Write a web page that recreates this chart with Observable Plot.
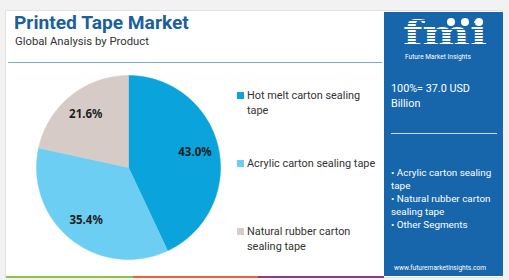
<!DOCTYPE html>
<html><head><meta charset="utf-8">
<script src="https://cdn.jsdelivr.net/npm/d3@7"></script>
<script src="https://cdn.jsdelivr.net/npm/@observablehq/plot@0.6"></script>
<style>
html,body{margin:0;padding:0;background:#f2f2f2;}
#wrap{position:relative;width:509px;height:280px;overflow:hidden;font-family:Roboto,"Noto Sans",sans-serif;}
#card{position:absolute;left:5px;top:10px;width:498px;height:268px;background:#fff;border:1px solid #e3e3e3;box-sizing:border-box;}
.abs{position:absolute;white-space:nowrap;}
#title{left:14px;top:13px;font-size:19.2px;line-height:19px;font-weight:700;color:#1b5f9c;}
#sub{left:15px;top:35.5px;font-size:11.3px;line-height:11px;color:#333;}
#divider{left:8px;top:62px;width:374px;height:1px;background:#78acd2;}
#panel{left:384px;top:12px;width:119px;height:264px;background:#1766ac;}
.strip{top:276px;height:2px;}
#plot{left:28px;top:67px;}
.leg{font-size:10.9px;color:#333;line-height:15px;}
.sw{display:inline-block;width:7px;height:7px;margin-right:3px;vertical-align:0px;}
.pt{color:#fff;}
</style></head>
<body>
<div id="wrap">
  <div id="card"></div>
  <div class="abs" id="title">Printed Tape Market</div>
  <div class="abs" id="sub">Global Analysis by Product</div>
  <div class="abs" id="divider"></div>
  <div class="abs" id="plot"></div>
  <div id="legend"></div>
  <div class="abs" id="panel"></div>
  <div id="strips"></div>
  <div id="side"></div>
</div>
<script>
// ---- data ----
const categories = ["Hot melt carton sealing tape", "Acrylic carton sealing tape", "Natural rubber carton sealing tape"];
const legendLines = [["Hot melt carton sealing", "tape"], ["Acrylic carton sealing tape"], ["Natural rubber carton", "sealing tape"]];
const shares = [43.0, 35.4, 21.6];
const colors = ["#0aa3dc", "#6dcef3", "#d6cbc6"];
const totalLabel = ["100%= 37.0 USD", "Billion"];
const otherSegments = ["• Acrylic carton sealing", "tape", "• Natural rubber carton", "sealing tape", "• Other Segments"];
const website = "www.futuremarketinsights.com";
const stripColors = ["#8bc34a", "#e5643a", "#8c3a8f"];

// ---- pie geometry from data ----
const arcs = d3.pie().sort(null).value(d => d.v)(categories.map((c, i) => ({c, v: shares[i], col: colors[i]})));
const polyPts = [];
arcs.forEach((a, k) => {
  const n = Math.max(2, Math.ceil((a.endAngle - a.startAngle) / 0.01));
  polyPts.push({k, x: 0, y: 0, col: a.data.col});
  for (let j = 0; j <= n; j++) {
    const t = a.startAngle + (a.endAngle - a.startAngle) * j / n;
    polyPts.push({k, x: Math.sin(t), y: Math.cos(t), col: a.data.col});
  }
  polyPts.push({k, x: 0, y: 0, col: a.data.col});
});
const labelR = 0.74;
const labels = arcs.map(a => {
  const m = (a.startAngle + a.endAngle) / 2;
  return {x: Math.sin(m) * labelR, y: Math.cos(m) * labelR, t: a.data.v.toFixed(1) + "%"};
});

const chart = Plot.plot({
  width: 200, height: 200, margin: 8,
  x: {domain: [-1, 1], axis: null},
  y: {domain: [-1, 1], axis: null},
  style: {background: "transparent"},
  marks: [
    Plot.line(polyPts, {x: "x", y: "y", z: "k", fill: "col", stroke: "col", strokeWidth: 0.5, curve: "linear"}),
    Plot.text(labels, {x: "x", y: "y", text: "t", fontSize: 11.5, fontWeight: 700, fill: "#1e1e1e", fontFamily: "'Noto Sans', sans-serif"})
  ]
});
document.getElementById("plot").appendChild(chart);

// ---- legend ----
const legTops = [87.5, 155.5, 223.5];
const legend = document.getElementById("legend");
legendLines.forEach((lines, i) => {
  const d = document.createElement("div");
  d.className = "abs leg";
  d.style.left = "237px"; d.style.top = legTops[i] + "px";
  d.innerHTML = `<span class="sw" style="background:${colors[i]}"></span>${lines[0]}` + (lines[1] ? `<br><span style="padding-left:10px">${lines[1]}</span>` : "");
  legend.appendChild(d);
});

// ---- strips ----
const stripX = [6, 133, 258, 384];
const strips = document.getElementById("strips");
stripColors.forEach((c, i) => {
  const d = document.createElement("div");
  d.className = "abs strip";
  d.style.left = stripX[i] + "px"; d.style.width = (stripX[i+1] - stripX[i]) + "px"; d.style.background = c;
  strips.appendChild(d);
});

// ---- side panel ----
const side = document.getElementById("side");
side.innerHTML = `
<svg class="abs" style="left:384px;top:12px" width="119" height="42">
  <defs><pattern id="st" width="4" height="3" patternUnits="userSpaceOnUse"><rect width="4" height="2" fill="#fff"/></pattern></defs>
  <text x="19" y="33" textLength="84" lengthAdjust="spacingAndGlyphs" font-family="'DejaVu Serif',serif" font-weight="700" font-size="33" fill="url(#st)">fmi</text>
  <circle cx="67" cy="10" r="4" fill="#fff"/><circle cx="81" cy="10" r="4" fill="#fff"/><circle cx="95" cy="10" r="4" fill="#fff"/>
</svg>
<div class="abs pt" style="left:405px;top:54px;font-size:6.6px;line-height:7px">Future Market Insights</div>
<div class="abs pt" style="left:391px;top:80.5px;font-size:10.8px;line-height:15px">${totalLabel[0]}<br>${totalLabel[1]}</div>
<div class="abs" style="left:391px;top:133px;width:106px;height:1px;background:#c9dcee"></div>
<div class="abs pt" style="left:391px;top:165.5px;font-size:9.9px;line-height:13px">${otherSegments.join("<br>")}</div>
<div class="abs pt" style="left:394px;top:264px;font-size:6.6px;line-height:8px">${website}</div>`;
</script>
</body></html>
